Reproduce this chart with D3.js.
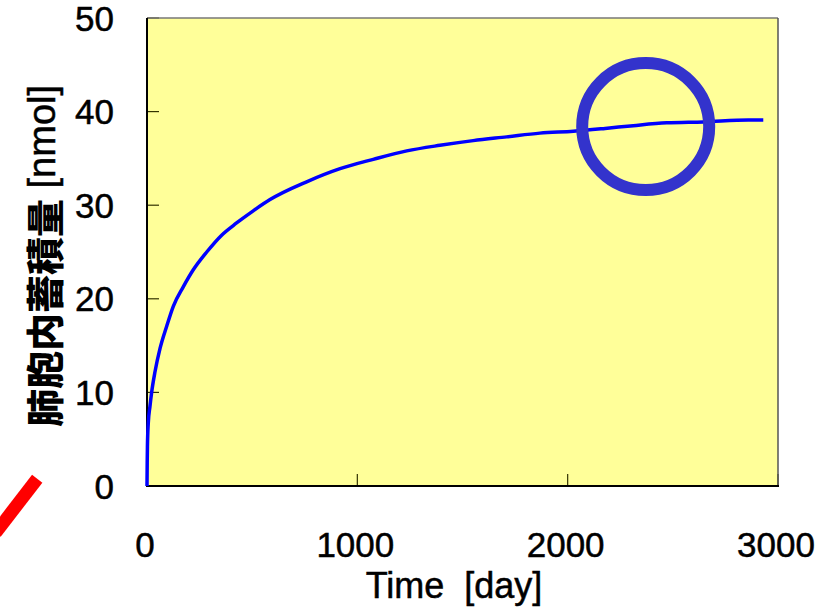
<!DOCTYPE html>
<html>
<head>
<meta charset="utf-8">
<script src="https://cdn.jsdelivr.net/npm/d3@7"></script>
<style>
  body { margin: 0; background: #ffffff; }
  svg { display: block; }
</style>
</head>
<body>
<svg id="chart" width="834" height="607"></svg>
<script>
// accumulated amount in alveoli over time
var days = [0, 1, 2, 6, 14, 22, 38, 62, 94, 125, 173, 220, 284, 355, 426, 505, 585, 759, 918, 1076, 1235, 1393, 1551, 1710, 1868, 2027, 2178, 2312, 2471, 2645, 2859, 2930]
var amounts = [0, 2.5, 4.2, 6.7, 8.5, 10.0, 12.2, 14.7, 17.1, 19.2, 21.3, 23.1, 25.0, 26.8, 28.1, 29.4, 30.6, 32.5, 33.9, 34.9, 35.8, 36.4, 36.9, 37.3, 37.7, 37.9, 38.2, 38.5, 38.8, 38.9, 39.1, 39.1]
var xTicks = [0, 1000, 2000, 3000]
var yTicks = [0, 10, 20, 30, 40, 50]
// highlight circle and the red stroke on the left (data units)
var circleAt = [2371, 38.4]
var redStroke = [[-522, 0.78], [-720, -5.0]]

const margin = { left: 147, top: 18, right: 56, bottom: 121 }
const width = 834, height = 607

const svg = d3.select("#chart")

let x = d3.scaleLinear().domain([0, 3000]).range([margin.left, width - margin.right])
let y = d3.scaleLinear().domain([0, 50]).range([height - margin.bottom, margin.top])

// plot background
svg.append("rect")
    .attr("x", x(0))
    .attr("y", y(50))
    .attr("width", x(3000) - x(0))
    .attr("height", y(0) - y(50))
    .style("fill", "#ffff99")

// inward ticks
svg.append("g")
    .selectAll("line")
    .data(yTicks)
    .enter().append("line")
    .attr("x1", x(0))
    .attr("x2", x(0) + 12)
    .attr("y1", d => y(d))
    .attr("y2", d => y(d))
    .style("stroke", "#333300")
    .style("stroke-width", 1.2)

svg.append("g")
    .selectAll("line")
    .data(xTicks)
    .enter().append("line")
    .attr("x1", d => x(d))
    .attr("x2", d => x(d))
    .attr("y1", y(0))
    .attr("y2", y(0) - 12)
    .style("stroke", "#333300")
    .style("stroke-width", 1.2)

// frame: top/right gray, left/bottom black
svg.append("line")
    .attr("x1", x(0)).attr("x2", x(3000))
    .attr("y1", y(50)).attr("y2", y(50))
    .style("stroke", "#777777").style("stroke-width", 1.5)
svg.append("line")
    .attr("x1", x(3000)).attr("x2", x(3000))
    .attr("y1", y(50)).attr("y2", y(0))
    .style("stroke", "#555555").style("stroke-width", 1.5)
svg.append("line")
    .attr("x1", x(0)).attr("x2", x(0))
    .attr("y1", y(50)).attr("y2", y(0) + 1)
    .style("stroke", "#000000").style("stroke-width", 2)
svg.append("line")
    .attr("x1", x(0) - 1).attr("x2", x(3000) + 1)
    .attr("y1", y(0)).attr("y2", y(0))
    .style("stroke", "#000000").style("stroke-width", 2)

// curve
let line = d3.line()
    .x(d => x(d[0]))
    .y(d => y(d[1]))
    .curve(d3.curveMonotoneX)

svg.append("path")
    .datum(days.map((d, i) => [d, amounts[i]]))
    .attr("d", line)
    .style("fill", "none")
    .style("stroke", "#0000ff")
    .style("stroke-width", 3.5)

// highlight circle
svg.append("circle")
    .attr("cx", x(circleAt[0]))
    .attr("cy", y(circleAt[1]))
    .attr("r", 63.5)
    .style("fill", "none")
    .style("stroke", "#3333cc")
    .style("stroke-width", 12)

// red stroke cut off at the left edge
svg.append("line")
    .attr("x1", x(redStroke[0][0]))
    .attr("y1", y(redStroke[0][1]))
    .attr("x2", x(redStroke[1][0]))
    .attr("y2", y(redStroke[1][1]))
    .style("stroke", "#ff0000")
    .style("stroke-width", 13)

// tick labels
svg.append("g")
    .selectAll("text")
    .data(yTicks)
    .enter().append("text")
    .text(d => d)
    .attr("x", 114)
    .attr("y", d => y(d) + 12.5)
    .attr("text-anchor", "end")
    .style("font-family", "'Liberation Sans', Arial, sans-serif")
    .style("font-size", "35px")
    .style("stroke", "#000").style("stroke-width", 0.5)

svg.append("g")
    .selectAll("text")
    .data(xTicks)
    .enter().append("text")
    .text(d => d)
    .attr("x", d => x(d) - 2)
    .attr("y", 557)
    .attr("text-anchor", "middle")
    .style("font-family", "'Liberation Sans', Arial, sans-serif")
    .style("font-size", "35px")
    .style("stroke", "#000").style("stroke-width", 0.5)

// axis titles
svg.append("text")
    .text("Time  [day]")
    .attr("x", 454)
    .attr("y", 598)
    .attr("text-anchor", "middle")
    .style("white-space", "pre")
    .style("font-family", "'Liberation Sans', Arial, sans-serif")
    .style("font-size", "36px")
    .style("stroke", "#000").style("stroke-width", 0.5)

let yTitle = svg.append("text")
    .attr("transform", "translate(42,256) rotate(-90)")
    .attr("text-anchor", "middle")
    .attr("dominant-baseline", "central")
yTitle.append("tspan")
    .text("肺胞内蓄積量")
    .style("font-family", "'Noto Sans CJK JP', sans-serif")
    .style("font-weight", "900")
    .style("font-size", "38px")
yTitle.append("tspan")
    .text(" [nmol]")
    .style("font-family", "'Liberation Sans', Arial, sans-serif")
    .style("font-size", "38px")
    .style("stroke", "#000").style("stroke-width", 0.5)
</script>
</body>
</html>
